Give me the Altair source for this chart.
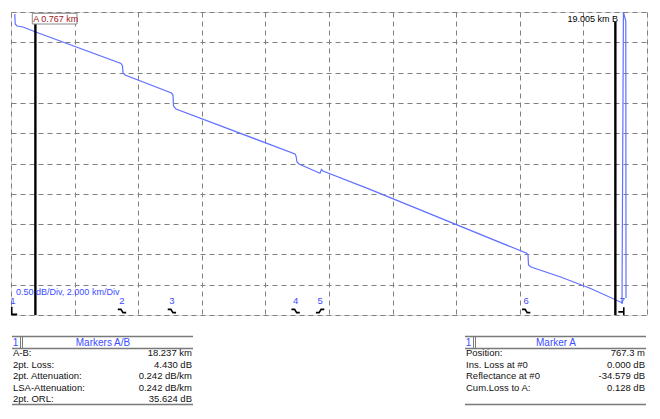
import altair as alt
import pandas as pd

# ---------------- data ----------------
trace_km = [0.119, 0.132, 0.189, 0.377, 0.777, 3.459, 3.506, 3.522, 3.585,
            5.047, 5.094, 5.110, 5.189, 8.931, 8.962, 8.994, 9.057, 9.717,
            9.764, 9.811, 11.289, 16.217, 16.258, 16.274, 16.352, 17.264,
            18.208, 19.214, 19.258, 19.333, 19.340]
trace_db = [4.967, 4.802, 4.769, 4.752, 4.670, 4.150, 4.109, 3.993, 3.960,
            3.663, 3.630, 3.449, 3.399, 2.657, 2.624, 2.525, 2.492, 2.338,
            2.401, 2.376, 2.074, 1.018, 0.990, 0.825, 0.792, 0.632,
            0.441, 0.203, 5.000, 4.851, 0.281]

marker_names = ["A", "B"]
marker_km = [0.767, 19.005]

event_labels = ["1", "2", "3", "4", "5", "6", "7"]
event_km = [0.063, 3.49, 5.06, 8.95, 9.72, 16.20, 19.23]
event_kind = ["start", "loss", "loss", "loss", "reflect", "loss", "end"]

left_title = "Markers A/B"
left_labels = ["A-B:", "2pt. Loss:", "2pt. Attenuation:", "LSA-Attenuation:", "2pt. ORL:"]
left_values = ["18.237 km", "4.430 dB", "0.242 dB/km", "0.242 dB/km", "35.624 dB"]
right_title = "Marker A"
right_labels = ["Position:", "Ins. Loss at #0", "Reflectance at #0", "Cum.Loss to A:"]
right_values = ["767.3 m", "0.000 dB", "-34.579 dB", "0.128 dB"]

scale_text = "0.50 dB/Div, 2.000 km/Div"

x_grid = [0, 2, 4, 6, 8, 10, 12, 14, 16, 18, 20]
y_grid = [0, 0.5, 1, 1.5, 2, 2.5, 3, 3.5, 4, 4.5, 5]

# ---------------- layout helpers ----------------
W, H = 636, 303
KM_MAX, DB_MAX = 20.0, 5.0


def kx(px):
    return px / W * KM_MAX


def dy(py):
    return DB_MAX - py / H * DB_MAX


BLUE = "#3c4cff"
TRACE = "#6070ff"
FONT = "Liberation Sans"

xs = alt.Scale(domain=[0, KM_MAX], nice=False, zero=False)
ys = alt.Scale(domain=[0, DB_MAX], nice=False, zero=False)
xa = alt.Axis(values=x_grid, labels=False, ticks=False, domain=False, grid=True,
              gridColor="#808080", gridDash=[5, 4], gridWidth=1, title=None)
ya = alt.Axis(values=y_grid, labels=False, ticks=False, domain=False, grid=True,
              gridColor="#808080", gridDash=[5, 4], gridWidth=1, title=None)


def X(f):
    return alt.X(f, scale=xs, axis=xa)


def Y(f):
    return alt.Y(f, scale=ys, axis=ya)


trace = pd.DataFrame({"km": trace_km, "db": trace_db, "o": list(range(len(trace_km)))})

base_line = alt.Chart(trace).mark_line(color=TRACE, strokeWidth=1.2, clip=True).encode(
    x=X("km:Q"), y=Y("db:Q"), order="o:Q")

mk = pd.DataFrame({"name": marker_names, "km": marker_km,
                   "top": [dy(12), dy(10)], "bot": [0.0, 0.0]})
marker_rules = alt.Chart(mk).mark_rule(color="black", strokeWidth=2.4).encode(
    x=X("km:Q"), y=Y("top:Q"), y2="bot:Q")

boxdf = pd.DataFrame({"x1": [kx(21.3)], "x2": [kx(66)], "y1": [dy(1.3)], "y2": [dy(12)]})
a_box = alt.Chart(boxdf).mark_rect(fill="white", stroke="#8a8a8a", strokeWidth=1).encode(
    x=X("x1:Q"), x2="x2:Q", y=Y("y1:Q"), y2="y2:Q")

labdf = pd.DataFrame({"x": [kx(22.3)], "y": [dy(7)], "t": [f"A {marker_km[0]:.3f} km"]})
a_text = alt.Chart(labdf).mark_text(align="left", baseline="middle", color="#a01818",
                                    fontSize=9, font=FONT).encode(x=X("x:Q"), y=Y("y:Q"), text="t:N")
labdfb = pd.DataFrame({"x": [kx(607)], "y": [dy(7)], "t": [f"{marker_km[1]:.3f} km B"]})
b_text = alt.Chart(labdfb).mark_text(align="right", baseline="middle", color="black",
                                     fontSize=9, font=FONT).encode(x=X("x:Q"), y=Y("y:Q"), text="t:N")

ev = pd.DataFrame({"km": event_km, "label": event_labels, "kind": event_kind,
                   "ly": [dy(289)] * 7, "gy": [dy(299)] * 7})
ev_text = alt.Chart(ev).mark_text(color=BLUE, fontSize=9.5, font=FONT, baseline="middle").encode(
    x=X("km:Q"), y=Y("ly:Q"), text="label:N")
shape_dom = ["start", "loss", "reflect", "end"]
shape_rng = ["M -0.3 -1 L -0.3 0.8 L 1 0.8",
             "M -1 -0.4 L -0.25 -0.4 L 0.25 0.4 L 1 0.4",
             "M -1 0.4 L -0.25 0.4 L 0.25 -0.4 L 1 -0.4",
             "M -1 0.2 L 0.3 0.2 M 0.3 -0.9 L 0.3 1"]
ev_glyph = alt.Chart(ev).mark_point(filled=False, color="black", strokeWidth=1.6, size=70,
                                    opacity=1).encode(
    x=X("km:Q"), y=Y("gy:Q"),
    shape=alt.Shape("kind:N", scale=alt.Scale(domain=shape_dom, range=shape_rng), legend=None))

divdf = pd.DataFrame({"x": [kx(5)], "y": [dy(280)], "t": [scale_text]})
div_text = alt.Chart(divdf).mark_text(align="left", baseline="middle", color=BLUE,
                                      fontSize=9, font=FONT).encode(x=X("x:Q"), y=Y("y:Q"), text="t:N")

# ---------------- tables ----------------
row_y = [341, 352.5, 364, 375.5, 387]
L0, L1 = 1, 182
R0, R1 = 454, 635

hlines = pd.DataFrame({
    "x1": [kx(L0), kx(L0), kx(L0), kx(R0), kx(R0), kx(R0)],
    "x2": [kx(L1), kx(L1), kx(L1), kx(R1), kx(R1), kx(R1)],
    "y": [dy(324.5), dy(336.5), dy(392.5), dy(324.5), dy(336.5), dy(392.5)],
})
h_rules = alt.Chart(hlines).mark_rule(color="#7a7a7a", strokeWidth=1.5).encode(
    x=X("x1:Q"), x2="x2:Q", y=Y("y:Q"))

vlines = pd.DataFrame({
    "x": [kx(9.5), kx(11.5), kx(462.5), kx(464.5)],
    "y1": [dy(325)] * 4, "y2": [dy(336)] * 4,
})
v_rules = alt.Chart(vlines).mark_rule(color="#7a7a7a", strokeWidth=1).encode(
    x=X("x:Q"), y=Y("y1:Q"), y2="y2:Q")

heads = pd.DataFrame({
    "x": [kx(4.5), kx(92), kx(457.5), kx(545)],
    "y": [dy(331)] * 4,
    "t": ["1", left_title, "1", right_title],
})
head_text = alt.Chart(heads).mark_text(color=BLUE, fontSize=10, font=FONT,
                                       baseline="middle").encode(x=X("x:Q"), y=Y("y:Q"), text="t:N")

lab_df = pd.DataFrame({
    "x": [kx(L0 + 1)] * len(left_labels) + [kx(R0 + 1)] * len(right_labels),
    "y": [dy(v) for v in row_y[:len(left_labels)]] + [dy(v) for v in row_y[:len(right_labels)]],
    "t": left_labels + right_labels,
})
lab_text = alt.Chart(lab_df).mark_text(align="left", baseline="middle", color="#111",
                                       fontSize=9.5, font=FONT).encode(x=X("x:Q"), y=Y("y:Q"), text="t:N")

val_df = pd.DataFrame({
    "x": [kx(L1 - 1)] * len(left_values) + [kx(R1 - 1)] * len(right_values),
    "y": [dy(v) for v in row_y[:len(left_values)]] + [dy(v) for v in row_y[:len(right_values)]],
    "t": left_values + right_values,
})
val_text = alt.Chart(val_df).mark_text(align="right", baseline="middle", color="#111",
                                       fontSize=9.5, font=FONT).encode(x=X("x:Q"), y=Y("y:Q"), text="t:N")

chart = alt.layer(
    base_line, marker_rules, a_box, a_text, b_text, ev_text, ev_glyph, div_text,
    h_rules, v_rules, head_text, lab_text, val_text,
).properties(
    width=W, height=H,
    autosize=alt.AutoSizeParams(type="none"),
    padding={"left": 3, "top": 4, "right": 5, "bottom": 96},
).configure_view(stroke="#8c8c8c", strokeWidth=1.5).configure(font=FONT)

chart.save("out.html", embed_options={"renderer": "svg", "actions": False})
